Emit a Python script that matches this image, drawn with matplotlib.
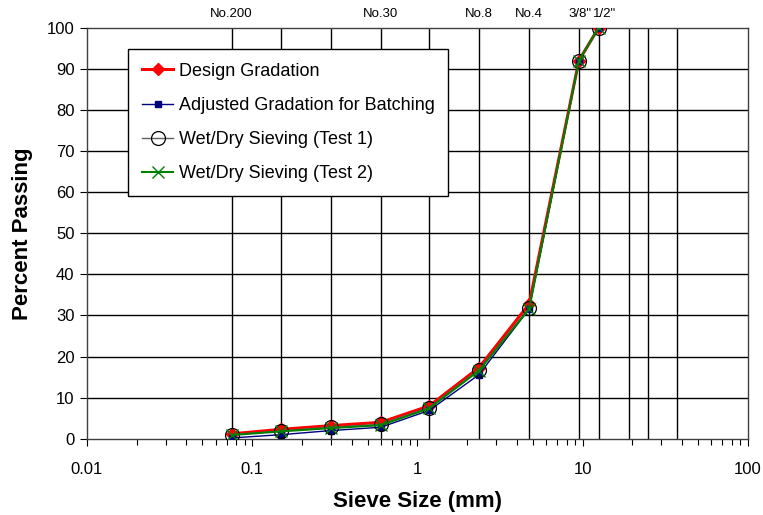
import matplotlib.pyplot as plt
import matplotlib.transforms as mtransforms
from matplotlib.ticker import LogLocator, NullFormatter

plt.rcParams['font.family'] = ['Liberation Sans', 'DejaVu Sans']

# sieve sizes (mm)
sieve_mm = [0.075, 0.15, 0.3, 0.6, 1.18, 2.36, 4.75, 9.5, 12.5]
grid_mm = [0.075, 0.15, 0.3, 0.6, 1.18, 2.36, 4.75, 9.5, 12.5, 19, 25, 37.5]
top_pos = [0.075, 0.6, 2.36, 4.75, 9.5, 12.5]
top_labels = ['No.200', 'No.30', 'No.8', 'No.4', '3/8"', '1/2"']

design = [1.2, 2.3, 3.2, 4.0, 8.0, 17.3, 32.8, 92, 100]
adjusted = [0.2, 1.0, 2.0, 2.8, 6.9, 15.6, 31.6, 92, 100]
test1 = [1.0, 1.9, 2.8, 3.5, 7.6, 16.8, 31.8, 92, 100]
test2 = [0.9, 1.8, 2.6, 3.3, 7.4, 16.6, 31.6, 92, 100]

fig = plt.figure(figsize=(7.63, 5.15), dpi=100)
ax = fig.add_axes([0.114, 0.148, 0.866, 0.798])

# grid
for g in grid_mm:
    ax.axvline(g, color='black', lw=1.0, zorder=1)
for yv in range(10, 100, 10):
    ax.axhline(yv, color='black', lw=1.0, zorder=1)

ax.plot(sieve_mm, design, color='#ff0000', lw=2.2, marker='D', ms=6,
        mfc='#ff0000', mec='#ff0000', label='Design Gradation', zorder=3)
ax.plot(sieve_mm, adjusted, color='#000080', lw=1.0, marker='s', ms=5,
        mfc='#000080', mec='#000080', label='Adjusted Gradation for Batching', zorder=4)
ax.plot(sieve_mm, test1, color='#606060', lw=1.0, marker='o', ms=10,
        mfc='none', mec='black', mew=0.9, label='Wet/Dry Sieving (Test 1)', zorder=5)
ax.plot(sieve_mm, test2, color='#008000', lw=1.5, marker='x', ms=8,
        mec='#008000', mew=1.0, label='Wet/Dry Sieving (Test 2)', zorder=6)

ax.set_xscale('log')
ax.set_xlim(0.01, 100)
ax.set_ylim(0, 100)
ax.set_yticks(range(0, 101, 10))
ax.set_xticks([0.01, 0.1, 1, 10, 100])
ax.set_xticklabels(['0.01', '0.1', '1', '10', '100'])
ax.xaxis.set_minor_locator(LogLocator(base=10, subs=range(2, 10)))
ax.xaxis.set_minor_formatter(NullFormatter())
ax.tick_params(axis='both', labelsize=12, direction='out', length=5, width=0.8, colors='black')
ax.tick_params(axis='x', which='minor', length=4, width=0.8)
ax.tick_params(axis='x', pad=12)
ax.tick_params(axis='y', pad=4)
for s in ax.spines.values():
    s.set_color('#404040')
    s.set_linewidth(1.0)

ax.set_xlabel('Sieve Size (mm)', fontsize=16, fontweight='bold', labelpad=10)
ax.set_ylabel('Percent Passing', fontsize=16, fontweight='bold', labelpad=10)

# sieve names along the top; the last two sit side by side like the original
trans = mtransforms.blended_transform_factory(ax.transData, ax.transAxes)
nudge = {'3/8"': ('right', 13), '1/2"': ('left', -6)}
for p, t in zip(top_pos, top_labels):
    ha, dx = nudge.get(t, ('center', 0))
    ax.annotate(t, xy=(p, 1.02), xycoords=trans, xytext=(dx, 0),
                textcoords='offset pixels', ha=ha, va='bottom', fontsize=9.5)

leg = ax.legend(loc='upper left', bbox_to_anchor=(0.0625, 0.948), fontsize=13,
                frameon=True, fancybox=False, edgecolor='black', framealpha=1,
                labelspacing=0.95, handlelength=1.75, handletextpad=0.3,
                borderpad=0.75, borderaxespad=0)
leg.get_frame().set_linewidth(1.0)

fig.savefig('out.png', dpi=100)
